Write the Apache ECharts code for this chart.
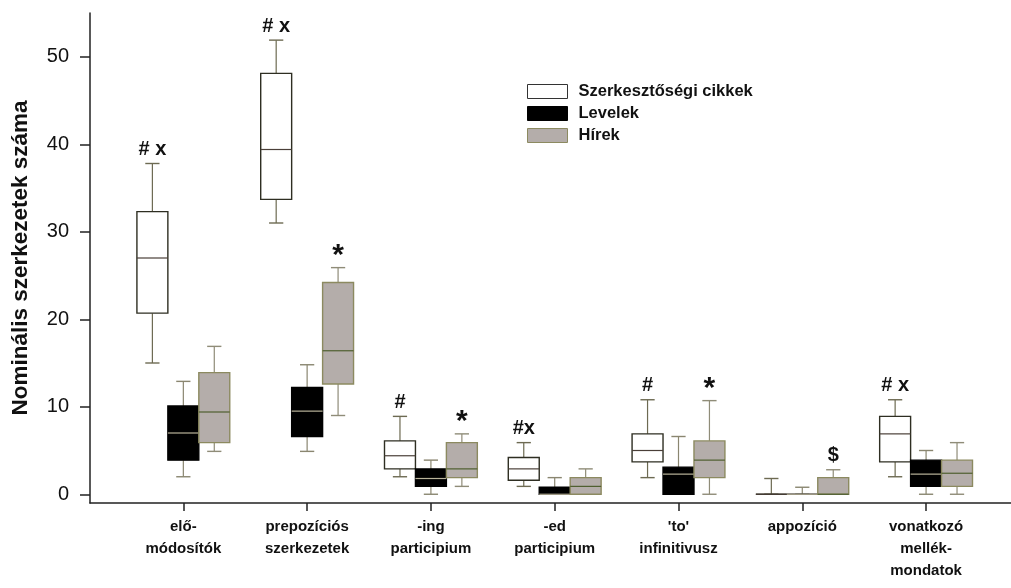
<!DOCTYPE html>
<html><head><meta charset="utf-8">
<script src="https://cdn.jsdelivr.net/npm/echarts@6/dist/echarts.min.js"></script>
<style>html,body{margin:0;padding:0;background:#fff}#c{width:1011px;height:588px}</style>
</head><body><div id="c"></div>
<script>
// ---- data ----
const categories = ['elő-\nmódosítók', 'prepozíciós\nszerkezetek', '-ing\nparticipium', '-ed\nparticipium', "'to'\ninfinitivusz", 'appozíció', 'vonatkozó\nmellék-\nmondatok'];
const seriesNames = ['Szerkesztőségi cikkek', 'Levelek', 'Hírek'];
// each row: [min, q1, median, q3, max]
const szerkesztosegi = [[15, 20.7, 27, 32.3, 37.8], [31, 33.7, 39.4, 48.1, 51.9], [2, 2.9, 4.4, 6.1, 8.9], [0.9, 1.6, 2.9, 4.2, 5.9], [1.9, 3.7, 5, 6.9, 10.8], [0, 0, 0, 0, 1.8], [2, 3.7, 6.9, 8.9, 10.8]];
const levelek = [[2, 3.9, 7, 10.1, 12.9], [4.9, 6.6, 9.5, 12.2, 14.8], [0, 0.9, 1.8, 2.9, 3.9], [0, 0, 0, 0.8, 1.9], [0, 0, 2.3, 3.1, 6.6], [0, 0, 0, 0, 0.8], [0, 0.9, 2.3, 3.9, 5]];
const hirek = [[4.9, 5.9, 9.4, 13.9, 16.9], [9, 12.6, 16.4, 24.2, 25.9], [0.9, 1.9, 2.9, 5.9, 6.9], [0, 0, 0.9, 1.9, 2.9], [0, 1.9, 3.9, 6.1, 10.7], [0, 0, 0, 1.9, 2.8], [0, 0.9, 2.4, 3.9, 5.9]];
const marksSzerk = ['# x', '# x', '#', '#x', '#', '', '# x'];
const marksLevelek = ['', '', '', '', '', '', ''];
const marksHirek = ['', '*', '*', '', '*', '$', ''];
const yTicks = [0, 10, 20, 30, 40, 50];
const xTicks = categories.map((_, i) => i);

// ---- drawing ----
const BOX_FRAC = 0.25, CAP_FRAC = 0.23;
const FONT = '"Liberation Sans", Arial, sans-serif';
const NARROW = '"Liberation Sans Narrow", "Arial Narrow", "Liberation Sans", Arial, sans-serif';
const styles = [
  {fill: '#ffffff', border: '#2e2e22', whisker: '#6d6a52', median: '#4a3f38'},
  {fill: '#000000', border: '#000000', whisker: '#8a8670', median: '#b9b39a'},
  {fill: '#b4adaa', border: '#8c8a60', whisker: '#8f8c78', median: '#4f5f30'}
];

function makeSeries(name, rows, marks, offset, st) {
  return {
    type: 'custom', name, clip: false,
    data: rows.map((r, i) => [i].concat(r)),
    encode: {x: 0, y: [1, 2, 3, 4, 5]},
    itemStyle: {color: st.fill, borderColor: st.border, borderWidth: 1},
    renderItem: (params, api) => {
      const i = api.value(0);
      const v = [1, 2, 3, 4, 5].map(k => api.value(k));
      const mn = v[0], q1 = v[1], md = v[2], q3 = v[3], mx = v[4];
      const bw = api.size([BOX_FRAC, 0])[0];
      const cx = api.coord([i, 0])[0] + offset * bw;
      const y = val => api.coord([i, val])[1];
      const h = bw / 2, c = bw * CAP_FRAC;
      const ln = (x1, y1, x2, y2, stroke, lw) => ({type: 'line', shape: {x1, y1, x2, y2}, style: {stroke, lineWidth: lw}});
      const children = [
        ln(cx, y(mx), cx, y(q3), st.whisker, 1.2),
        ln(cx - c, y(mx), cx + c, y(mx), st.whisker, 1.4),
        ln(cx, y(q1), cx, y(mn), st.whisker, 1.2),
        ln(cx - c, y(mn), cx + c, y(mn), st.whisker, 1.4),
        {type: 'rect', shape: {x: cx - h, y: y(q3), width: bw, height: y(q1) - y(q3)}, style: {fill: st.fill, stroke: st.border, lineWidth: 1.4}},
        ln(cx - h, y(md), cx + h, y(md), st.median, 1.2)
      ];
      const t = marks[params.dataIndex];
      if (t) {
        const star = t === '*';
        children.push({type: 'text', x: cx, y: y(mx) - (star ? -3 : 4), style: {text: t, align: 'center', verticalAlign: 'bottom', font: 'bold ' + (star ? 30 : 20) + 'px ' + FONT, fill: '#111'}});
      }
      return {type: 'group', children};
    }
  };
}

const chart = echarts.init(document.getElementById('c'), null, {renderer: 'canvas'});
chart.setOption({
  backgroundColor: '#ffffff',
  animation: false,
  grid: {left: 90, right: 0, top: 13, bottom: 85, containLabel: false},
  legend: {
    orient: 'vertical', left: 522, top: 78, itemWidth: 40, itemHeight: 14, itemGap: 5,
    selectedMode: false,
    textStyle: {fontFamily: FONT, fontSize: 16.5, fontWeight: 'bold', color: '#111', padding: [0, 0, 0, 6]},
    data: seriesNames.map((n, k) => ({name: n, icon: 'rect', itemStyle: {color: styles[k].fill, borderColor: k === 0 ? '#333' : styles[k].border, borderWidth: 1}}))
  },
  xAxis: {
    type: 'value', min: -0.754, max: 6.686,
    axisLine: {show: true, onZero: false, lineStyle: {color: '#222', width: 1.5}},
    axisTick: {show: true, customValues: xTicks, length: 8, lineStyle: {color: '#222', width: 1.5}},
    axisLabel: {customValues: xTicks, formatter: val => categories[Math.round(val)], fontFamily: NARROW, fontSize: 15, fontWeight: 'bold', color: '#111', lineHeight: 22, margin: 13},
    splitLine: {show: false}
  },
  yAxis: {
    type: 'value', min: -1, max: 55,
    name: 'Nominális szerkezetek száma', nameLocation: 'middle', nameGap: 58,
    nameTextStyle: {fontFamily: FONT, fontSize: 22.5, fontWeight: 'bold', color: '#111'},
    axisLine: {show: true, onZero: false, lineStyle: {color: '#222', width: 1.5}},
    axisTick: {show: true, customValues: yTicks, length: 10, lineStyle: {color: '#222', width: 1.5}},
    axisLabel: {customValues: yTicks, fontFamily: FONT, fontSize: 20, color: '#111', margin: 21},
    splitLine: {show: false}
  },
  series: [
    makeSeries(seriesNames[0], szerkesztosegi, marksSzerk, -1, styles[0]),
    makeSeries(seriesNames[1], levelek, marksLevelek, 0, styles[1]),
    makeSeries(seriesNames[2], hirek, marksHirek, 1, styles[2])
  ]
});
</script></body></html>
